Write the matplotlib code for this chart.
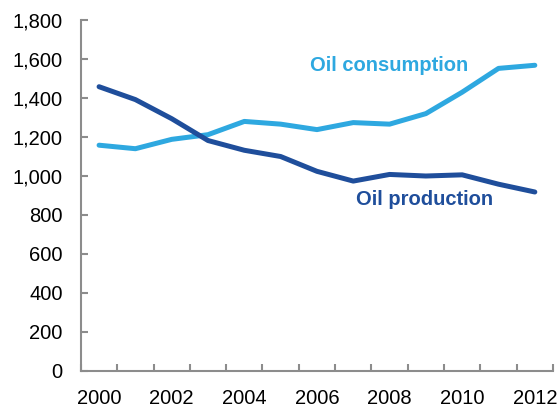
import matplotlib.pyplot as plt
import numpy as np
from matplotlib.ticker import FuncFormatter

plt.rcParams["font.family"] = ["Liberation Sans", "DejaVu Sans"]

years = np.arange(2000, 2013)
consumption = [1158, 1140, 1188, 1212, 1280, 1266, 1238, 1274, 1266, 1320, 1430, 1552, 1568]
production = [1458, 1392, 1294, 1182, 1132, 1100, 1024, 974, 1008, 1000, 1006, 958, 918]

light = "#2EA8E0"
dark = "#1F4E9B"
gray = "#8C8C8C"

fig = plt.figure(figsize=(5.58, 4.09), dpi=100)
ax = fig.add_axes([0.145, 0.093, 0.846, 0.858])

ax.plot(years, consumption, color=light, lw=3.6, solid_capstyle="round", solid_joinstyle="round")
ax.plot(years, production, color=dark, lw=3.6, solid_capstyle="round", solid_joinstyle="round")

ax.text(2007.98, 1569, "Oil consumption", color=light, fontsize=14.5, fontweight="bold",
        ha="center", va="center")
ax.text(2008.95, 877, "Oil production", color=dark, fontsize=14.5, fontweight="bold",
        ha="center", va="center")

ax.set_xlim(1999.5, 2012.5)
ax.set_ylim(0, 1800)
ax.set_yticks(np.arange(0, 1801, 200))
ax.yaxis.set_major_formatter(FuncFormatter(lambda v, p: f"{int(v):,}"))

# tick marks at category edges, labels at the centres of even years
ax.set_xticks(np.arange(1999.5, 2013, 1.0))
ax.set_xticklabels([])
ax.set_xticks(years[::2], minor=True)
ax.set_xticklabels([str(y) for y in years[::2]], minor=True)

for s in ["top", "right"]:
    ax.spines[s].set_visible(False)
for s in ["left", "bottom"]:
    ax.spines[s].set_color(gray)
    ax.spines[s].set_linewidth(1.5)

ax.tick_params(axis="both", which="major", direction="in", length=5, width=1.5,
               color=gray, labelsize=14.5, pad=13)
ax.tick_params(axis="x", which="minor", length=0, labelsize=14.5, pad=13)

fig.savefig("out.png", dpi=100)
